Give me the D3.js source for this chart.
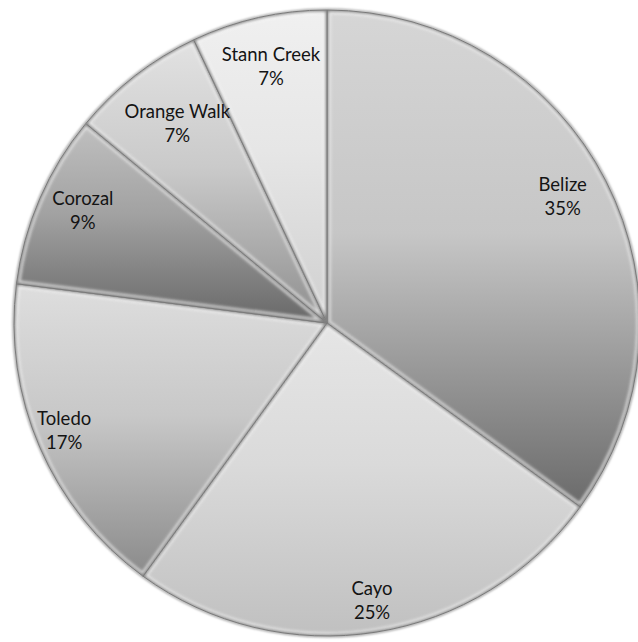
<!DOCTYPE html>
<html>
<head>
<meta charset="utf-8">
<script src="https://cdn.jsdelivr.net/npm/d3@7"></script>
<style>
  html, body { margin: 0; padding: 0; background: #ffffff; }
  svg { display: block; }
  text { font-family: Lato, "Noto Sans", "Liberation Sans", sans-serif; fill: #141414; }
</style>
</head>
<body>
<svg id="chart" width="638" height="642"></svg>
<script>
// Share of population by district
const districts = ["Belize", "Cayo", "Toledo", "Corozal", "Orange Walk", "Stann Creek"];
const shares = [35, 25, 17, 9, 7, 7];

// Vertical gradient stops (top -> bottom) for each wedge
const shadeTop = ["#d6d6d6", "#e6e6e6", "#dedede", "#c0c0c0", "#e2e2e2", "#f0f0f0"];
const shadeMid = ["#c6c6c6", "#dadada", "#c8c8c8", "#a2a2a2", "#cacaca", "#e6e6e6"];
const shadeBottom = ["#6a6a6a", "#c0c0c0", "#8a8a8a", "#686868", "#8e8e8e", "#cfcfcf"];

// Label distance from the centre, as a fraction of the radius
const labelReach = [0.845, 0.92, 0.915, 0.85, 0.78, 0.82];

const width = 638, height = 642;
const cx = 327, cy = 323, radius = 313;
const fontSize = 18.5, lineGap = 24;

const svg = d3.select("#chart");
const defs = svg.append("defs");

const data = districts.map((name, i) => ({ name, value: shares[i], i }));

const pie = d3.pie().sort(null).value(d => d.value);
const arcs = pie(data);
const arc = d3.arc().innerRadius(0).outerRadius(radius);

data.forEach((d, i) => {
  const g = defs.append("linearGradient")
    .attr("id", "shade" + i)
    .attr("x1", 0).attr("y1", 0).attr("x2", 0).attr("y2", 1);
  g.append("stop").attr("offset", "0").attr("stop-color", shadeTop[i]);
  g.append("stop").attr("offset", "0.45").attr("stop-color", shadeMid[i]);
  g.append("stop").attr("offset", "1").attr("stop-color", shadeBottom[i]);
  defs.append("clipPath").attr("id", "clip" + i)
    .append("path").attr("d", arc(arcs[i]));
});

const soft = defs.append("filter").attr("id", "soft")
  .attr("x", "-10%").attr("y", "-10%").attr("width", "120%").attr("height", "120%");
soft.append("feGaussianBlur").attr("stdDeviation", 1.6);

const rimBlur = defs.append("filter").attr("id", "rimBlur")
  .attr("x", "-10%").attr("y", "-10%").attr("width", "120%").attr("height", "120%");
rimBlur.append("feGaussianBlur").attr("stdDeviation", 1.2);

const root = svg.append("g").attr("transform", `translate(${cx},${cy})`);

// soft rim around the disc
root.append("circle")
  .attr("r", radius + 0.5)
  .attr("fill", "none")
  .attr("stroke", "#a0a0a0")
  .attr("stroke-width", 2.2)
  .attr("filter", "url(#rimBlur)");

const wedges = root.selectAll("g.wedge")
  .data(arcs)
  .join("g")
  .attr("class", "wedge");

wedges.append("path")
  .attr("d", arc)
  .attr("fill", (d, i) => `url(#shade${i})`);

// bevel: bright inner edge and a dark rim, kept inside each wedge
const bevel = wedges.append("g")
  .attr("clip-path", (d, i) => `url(#clip${i})`);
bevel.append("path")
  .attr("d", arc)
  .attr("fill", "none")
  .attr("stroke", "#ffffff")
  .attr("stroke-opacity", 0.75)
  .attr("stroke-width", 7)
  .attr("filter", "url(#soft)");
bevel.append("path")
  .attr("d", arc)
  .attr("fill", "none")
  .attr("stroke", "#5e5e5e")
  .attr("stroke-opacity", 0.85)
  .attr("stroke-width", 2.6)
  .attr("filter", "url(#soft)");

wedges.append("path")
  .attr("d", arc)
  .attr("fill", "none")
  .attr("stroke", "#7a7a7a")
  .attr("stroke-width", 1);

// category and percentage labels
const labels = root.selectAll("text.label")
  .data(arcs)
  .join("text")
  .attr("class", "label")
  .attr("text-anchor", "middle")
  .attr("font-size", fontSize)
  .attr("transform", (d, i) => {
    const r = radius * labelReach[i];
    const a = (d.startAngle + d.endAngle) / 2;
    return `translate(${r * Math.sin(a)},${-r * Math.cos(a)})`;
  });
labels.append("tspan").attr("x", 0).attr("dy", -lineGap / 2).text(d => d.data.name);
labels.append("tspan").attr("x", 0).attr("dy", lineGap).text(d => d.data.value + "%");
</script>
</body>
</html>
